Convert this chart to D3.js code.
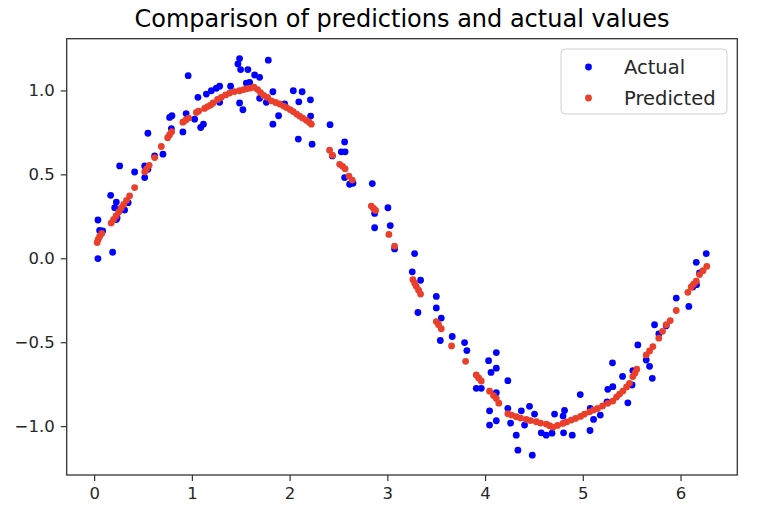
<!DOCTYPE html>
<html>
<head>
<meta charset="utf-8">
<script src="https://cdnjs.cloudflare.com/ajax/libs/d3/7.8.5/d3.min.js"></script>
<style>
	body { margin: 0; background: #fff; }
	text { font-family: 'DejaVu Sans', sans-serif; }
</style>
</head>
<body>
<div class="chart"></div>
<script>
const title = 'Comparison of predictions and actual values'
const legendLabels = ['Actual', 'Predicted']
const xTicks = [0, 1, 2, 3, 4, 5, 6]
const yTicks = [-1.0, -0.5, 0.0, 0.5, 1.0]

// actual values
const actualX = [0.039, 0.039, 0.056, 0.087, 0.169, 0.189, 0.210, 0.227, 0.227, 0.235,
	0.261, 0.312, 0.348, 0.414, 0.517, 0.517, 0.550, 0.550, 0.619, 0.704,
	0.772, 0.790, 0.796, 0.908, 0.941, 0.962, 1.028, 1.062, 1.090, 1.118,
	1.148, 1.199, 1.250, 1.284, 1.284, 1.396, 1.471, 1.488, 1.499, 1.488,
	1.522, 1.557, 1.573, 1.591, 1.642, 1.693, 1.693, 1.762, 1.782, 1.829,
	1.829, 1.887, 1.949, 2.038, 2.128, 2.094, 2.089, 2.213, 2.215, 2.230,
	2.414, 2.563, 2.437, 2.529, 2.568, 2.563, 2.614, 2.648, 2.846, 2.870,
	2.870, 3.006, 3.030, 3.074, 3.279, 3.255, 3.340, 3.313, 3.501, 3.501,
	3.552, 3.542, 3.664, 3.790, 3.814, 3.910, 3.961, 4.036, 4.061, 4.115,
	4.115, 4.115, 4.046, 4.115, 4.046, 4.233, 4.233, 4.261, 4.319, 4.336,
	4.371, 4.404, 4.455, 4.506, 4.483, 4.575, 4.626, 4.685, 4.711, 4.813,
	4.798, 4.803, 4.892, 4.974, 5.074, 5.076, 5.110, 5.179, 5.248, 5.256,
	5.307, 5.304, 5.407, 5.461, 5.504, 5.512, 5.563, 5.649, 5.683, 5.711,
	5.734, 5.778, 5.854, 5.956, 6.085, 6.126, 6.164, 6.194, 6.161, 6.263]
const actualY = [-0.002, 0.228, 0.166, 0.163, 0.375, 0.036, 0.301, 0.231, 0.335, 0.241,
	0.550, 0.287, 0.331, 0.514, 0.550, 0.481, 0.745, 0.530, 0.610, 0.620,
	0.839, 0.773, 0.849, 0.753, 0.862, 1.088, 0.829, 0.959, 0.779, 0.799,
	0.978, 0.998, 1.013, 1.025, 0.929, 1.025, 1.158, 1.190, 1.124, 0.925,
	0.885, 1.044, 1.124, 1.048, 1.092, 1.078, 0.953, 0.929, 1.180, 0.992,
	0.799, 0.849, 0.919, 0.998, 0.992, 0.932, 0.710, 0.944, 0.847, 0.680,
	0.796, 0.693, 0.610, 0.634, 0.634, 0.481, 0.441, 0.447, 0.445, 0.267,
	0.182, 0.301, 0.195, 0.056, 0.028, -0.081, -0.131, -0.323, -0.227, -0.296,
	-0.356, -0.490, -0.466, -0.502, -0.550, -0.775, -0.775, -0.610, -0.680, -0.562,
	-0.655, -0.801, -0.909, -0.968, -0.994, -0.729, -0.894, -0.982, -1.054, -1.143,
	-0.909, -0.994, -0.882, -0.928, -1.173, -1.040, -1.054, -1.042, -0.928, -0.907,
	-0.940, -1.040, -1.054, -0.812, -1.026, -0.894, -0.960, -0.934, -0.855, -0.781,
	-0.765, -0.623, -0.704, -0.861, -0.755, -0.669, -0.516, -0.606, -0.644, -0.715,
	-0.396, -0.450, -0.402, -0.237, -0.287, -0.171, -0.157, -0.087, -0.024, 0.028]

// predicted values
const predictedX = [0.031, 0.041, 0.056, 0.077, 0.174, 0.199, 0.225, 0.251, 0.276, 0.302,
	0.332, 0.363, 0.414, 0.517, 0.537, 0.563, 0.619, 0.687, 0.752, 0.772,
	0.793, 0.908, 0.936, 0.967, 1.046, 1.069, 1.130, 1.161, 1.192, 1.217,
	1.263, 1.301, 1.345, 1.386, 1.437, 1.488, 1.529, 1.560, 1.596, 1.635,
	1.673, 1.703, 1.734, 1.775, 1.813, 1.857, 1.898, 1.939, 1.969, 2.005,
	2.036, 2.072, 2.102, 2.133, 2.171, 2.200, 2.222, 2.409, 2.437, 2.512,
	2.542, 2.568, 2.607, 2.641, 2.836, 2.859, 2.880, 3.016, 3.074, 3.261,
	3.279, 3.296, 3.320, 3.340, 3.501, 3.524, 3.552, 3.657, 3.801, 3.910,
	3.934, 3.961, 4.046, 4.087, 4.115, 4.141, 4.233, 4.271, 4.319, 4.363,
	4.422, 4.465, 4.524, 4.568, 4.626, 4.660, 4.694, 4.742, 4.796, 4.834,
	4.882, 4.926, 4.977, 5.018, 5.069, 5.110, 5.151, 5.202, 5.256, 5.307,
	5.345, 5.376, 5.410, 5.448, 5.478, 5.512, 5.535, 5.553, 5.649, 5.683,
	5.717, 5.778, 5.816, 5.854, 5.895, 5.956, 6.075, 6.109, 6.133, 6.161,
	6.194, 6.230, 6.269]
const predictedY = [0.094, 0.112, 0.130, 0.148, 0.210, 0.231, 0.252, 0.276, 0.300, 0.321,
	0.345, 0.372, 0.421, 0.515, 0.533, 0.554, 0.600, 0.666, 0.718, 0.736,
	0.754, 0.811, 0.823, 0.835, 0.869, 0.877, 0.893, 0.904, 0.913, 0.925,
	0.946, 0.959, 0.973, 0.984, 0.993, 0.998, 1.005, 1.010, 1.014, 1.019,
	1.005, 0.987, 0.970, 0.958, 0.938, 0.928, 0.919, 0.907, 0.898, 0.886,
	0.874, 0.859, 0.847, 0.835, 0.823, 0.811, 0.799, 0.644, 0.614, 0.560,
	0.548, 0.533, 0.490, 0.466, 0.311, 0.297, 0.285, 0.142, 0.072, -0.127,
	-0.148, -0.167, -0.190, -0.213, -0.377, -0.396, -0.420, -0.522, -0.614, -0.695,
	-0.713, -0.731, -0.792, -0.818, -0.836, -0.863, -0.926, -0.934, -0.944, -0.952,
	-0.960, -0.967, -0.974, -0.982, -0.988, -0.997, -1.006, -0.996, -0.984, -0.975,
	-0.964, -0.954, -0.942, -0.928, -0.915, -0.904, -0.895, -0.880, -0.864, -0.851,
	-0.827, -0.809, -0.791, -0.767, -0.745, -0.705, -0.683, -0.661, -0.576, -0.552,
	-0.526, -0.476, -0.435, -0.396, -0.371, -0.311, -0.203, -0.171, -0.154, -0.137,
	-0.097, -0.074, -0.048]

const width = 762
const height = 522
const plotLeft = 66.7
const plotRight = 737.3
const plotTop = 38.7
const plotBottom = 475
const blue = '#0000ff'
const red = '#ea3f2a'

const actual = actualX.map((x, i) => [x, actualY[i]])
const predicted = predictedX.map((x, i) => [x, predictedY[i]])
const all = actual.concat(predicted)

// matplotlib style 5% margins around the data
function padded(values) {
	const ext = d3.extent(values)
	const pad = (ext[1] - ext[0]) * 0.05
	return [ext[0] - pad, ext[1] + pad]
}

const xScale = d3.scaleLinear()
	.domain(padded(all.map(d => d[0])))
	.range([plotLeft, plotRight])

const yScale = d3.scaleLinear()
	.domain(padded(all.map(d => d[1])))
	.range([plotBottom, plotTop])

const svg = d3.select('.chart')
	.append('svg')
	.attr('width', width)
	.attr('height', height)

svg.append('text')
	.attr('x', (plotLeft + plotRight) / 2)
	.attr('y', 27)
	.attr('text-anchor', 'middle')
	.style('font-size', '24px')
	.style('fill', '#000')
	.text(title)

const fmt = d3.format('.1f')
const xAxis = d3.axisBottom(xScale).tickValues(xTicks).tickFormat(d3.format('d')).tickSizeOuter(0).tickSize(6).tickPadding(6)
const yAxis = d3.axisLeft(yScale).tickValues(yTicks).tickFormat(d => fmt(d).replace('-', '\u2212')).tickSizeOuter(0).tickSize(6).tickPadding(6)

const gx = svg.append('g')
	.attr('transform', 'translate(0,' + plotBottom + ')')
	.call(xAxis)

const gy = svg.append('g')
	.attr('transform', 'translate(' + plotLeft + ',0)')
	.call(yAxis)

gx.select('.domain').remove()
gy.select('.domain').remove()

svg.selectAll('.tick line').attr('stroke', '#333').attr('stroke-width', 1.2)
svg.selectAll('.tick text')
	.style('font-size', '16.5px')
	.style('font-family', "'DejaVu Sans', sans-serif")
	.attr('fill', '#262626')

// points
svg.append('g')
	.selectAll('circle')
	.data(actual)
	.enter()
	.append('circle')
	.attr('cx', d => xScale(d[0]))
	.attr('cy', d => yScale(d[1]))
	.attr('r', 3.4)
	.attr('fill', blue)

svg.append('g')
	.selectAll('circle')
	.data(predicted)
	.enter()
	.append('circle')
	.attr('cx', d => xScale(d[0]))
	.attr('cy', d => yScale(d[1]))
	.attr('r', 3.4)
	.attr('fill', red)

// axes frame
svg.append('rect')
	.attr('x', plotLeft)
	.attr('y', plotTop)
	.attr('width', plotRight - plotLeft)
	.attr('height', plotBottom - plotTop)
	.attr('fill', 'none')
	.attr('stroke', '#333')
	.attr('stroke-width', 1.3)

// legend
const legend = svg.append('g')
	.attr('transform', 'translate(561,49)')

legend.append('rect')
	.attr('width', 166)
	.attr('height', 65)
	.attr('rx', 4)
	.attr('fill', '#fff')
	.attr('fill-opacity', 0.8)
	.attr('stroke', '#d0d0d0')

const item = legend.selectAll('.legend')
	.data(legendLabels)
	.enter()
	.append('g')
	.attr('class', 'legend')
	.attr('transform', (d, i) => 'translate(0,' + (18 + i * 31) + ')')

item.append('circle')
	.attr('cx', 27.5)
	.attr('r', 3.4)
	.attr('fill', (d, i) => i ? red : blue)

item.append('text')
	.attr('x', 63)
	.attr('y', 6.5)
	.style('font-size', '19.5px')
	.style('fill', '#262626')
	.text(d => d)
</script>
</body>
</html>
